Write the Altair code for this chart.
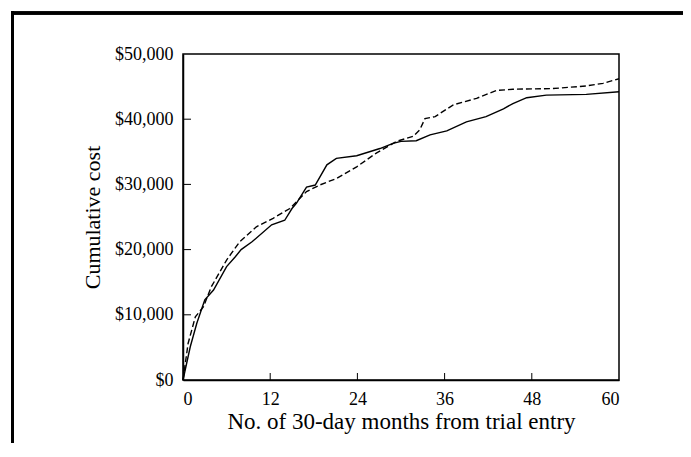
import altair as alt
import pandas as pd

# ---- data ----
solid_months = [0, 1.0, 1.9, 3.0, 4.2, 6.0, 7.2, 8.0, 9.5, 12.2, 14.0, 15.0, 15.6, 17.0,
                18.2, 19.8, 21.1, 23.9, 27.1, 28.9, 30.0, 32.1, 34.0, 36.3, 39.0, 41.7,
                44.1, 45.4, 47.3, 50.0, 55.5, 60.0]
solid_cost = [0, 5100, 8700, 12300, 13800, 17400, 18900, 20000, 21200, 23800, 24500, 26300,
              27100, 29600, 29900, 33000, 34000, 34400, 35500, 36300, 36600, 36700, 37600,
              38200, 39600, 40400, 41600, 42400, 43300, 43700, 43800, 44200]

dashed_months = [0, 0.7, 1.7, 2.8, 3.9, 6.0, 7.8, 10.1, 12.4, 14.7, 17.0, 18.8, 21.1, 23.9,
                 26.6, 29.4, 31.7, 32.6, 33.3, 34.7, 37.2, 40.4, 43.1, 45.4, 50.9, 55.5,
                 57.8, 60.0]
dashed_cost = [0, 5600, 9700, 11200, 14300, 18400, 21200, 23500, 24800, 26300, 28900, 29900,
               30900, 32700, 34800, 36600, 37400, 38400, 40100, 40400, 42200, 43200, 44400,
               44600, 44700, 45100, 45500, 46200]

x_ticks = [0, 12, 24, 36, 48, 60]
y_ticks = [0, 10000, 20000, 30000, 40000, 50000]
x_title = "No. of 30-day months from trial entry"
y_title = "Cumulative cost"

# ---- layout ----
W, H = 436, 326
FONT = "Liberation Serif"

solid_df = pd.DataFrame({"month": solid_months, "cost": solid_cost})
dashed_df = pd.DataFrame({"month": dashed_months, "cost": dashed_cost})

xscale = alt.Scale(domain=[0, 60], nice=False, zero=False)
yscale = alt.Scale(domain=[0, 50000], nice=False)

x_axis = alt.Axis(values=x_ticks, ticks=False, grid=False, format="d",
                  labelFont=FONT, labelFontSize=18, labelColor="#000000", labelPadding=10,
                  title=x_title, titleFont=FONT, titleFontSize=23, titleFontWeight="normal",
                  titleColor="#000000", titlePadding=2, domainColor="#000000", domainWidth=1.5)
y_axis = alt.Axis(values=y_ticks, ticks=False, grid=False, format="$,.0f",
                  labelFont=FONT, labelFontSize=18, labelColor="#000000", labelPadding=10,
                  title=y_title, titleFont=FONT, titleFontSize=22, titleFontWeight="normal",
                  titleColor="#000000", titlePadding=10, domainColor="#000000", domainWidth=1.5)

solid = alt.Chart(solid_df).mark_line(color="black", strokeWidth=1.4).encode(
    x=alt.X("month:Q", scale=xscale, axis=x_axis),
    y=alt.Y("cost:Q", scale=yscale, axis=y_axis),
)
dashed = alt.Chart(dashed_df).mark_line(color="black", strokeWidth=1.4, strokeDash=[6, 3]).encode(
    x=alt.X("month:Q", scale=xscale, axis=x_axis),
    y=alt.Y("cost:Q", scale=yscale, axis=y_axis),
)

xt_df = pd.DataFrame({"month": x_ticks[1:-1]})
yt_df = pd.DataFrame({"cost": y_ticks[1:-1]})
xticks = alt.Chart(xt_df).mark_rule(color="black", strokeWidth=1).encode(
    x=alt.X("month:Q", scale=xscale, axis=x_axis), y=alt.value(H), y2=alt.value(H - 7))
yticks = alt.Chart(yt_df).mark_rule(color="black", strokeWidth=1).encode(
    y=alt.Y("cost:Q", scale=yscale, axis=y_axis), x=alt.value(0), x2=alt.value(8))

frame_left = alt.Chart(xt_df).mark_rule(color="black", strokeWidth=3).encode(
    x=alt.value(-170.5), y=alt.value(-42.5), y2=alt.value(420))
frame_top = alt.Chart(xt_df).mark_rule(color="black", strokeWidth=3).encode(
    x=alt.value(-172), x2=alt.value(520), y=alt.value(-41))

chart = alt.layer(solid, dashed, xticks, yticks, frame_left, frame_top).properties(
    width=W, height=H,
    autosize=alt.AutoSizeParams(type="none"),
    padding={"left": 175, "top": 46, "right": 64, "bottom": 63},
    background="white",
).configure_view(stroke="black", strokeWidth=1.5)

chart.save("out.html", embed_options={"renderer": "svg", "actions": False})
